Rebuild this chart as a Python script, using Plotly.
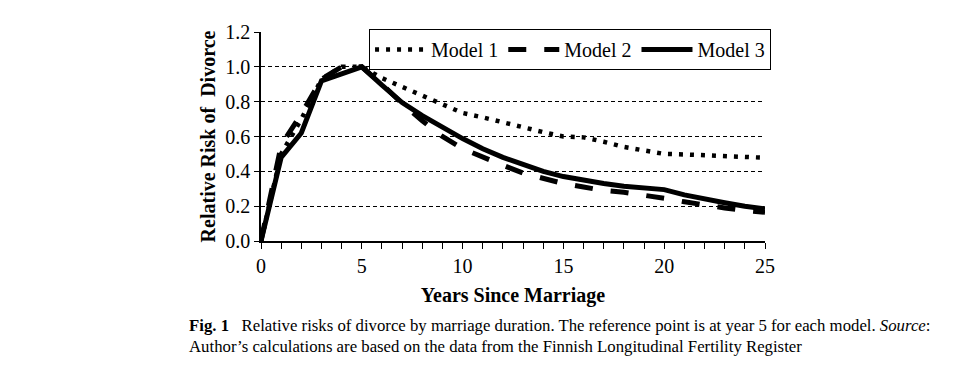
import plotly.graph_objects as go

years = list(range(0, 26))
model1 = [0.0, 0.50, 0.70, 0.93, 1.0, 1.0, 0.935, 0.885, 0.835, 0.785, 0.735,
          0.71, 0.68, 0.655, 0.625, 0.60, 0.595, 0.57, 0.54, 0.52, 0.50,
          0.497, 0.493, 0.49, 0.485, 0.478]
model2 = [0.0, 0.55, 0.73, 0.93, 1.0, 1.0, 0.90, 0.79, 0.69, 0.60, 0.53,
          0.48, 0.435, 0.39, 0.36, 0.33, 0.31, 0.29, 0.28, 0.265, 0.245,
          0.225, 0.205, 0.19, 0.175, 0.165]
model3 = [0.0, 0.48, 0.62, 0.92, 0.96, 1.0, 0.895, 0.795, 0.72, 0.65, 0.588,
          0.53, 0.48, 0.44, 0.40, 0.37, 0.348, 0.33, 0.315, 0.305, 0.295,
          0.265, 0.24, 0.22, 0.20, 0.185]
names = ["Model 1", "Model 2", "Model 3"]
x_ticks = [0, 5, 10, 15, 20, 25]
y_ticks = [0.0, 0.2, 0.4, 0.6, 0.8, 1.0, 1.2]

SERIF = "Liberation Serif, Times New Roman, serif"

fig = go.Figure()
fig.add_trace(go.Scatter(x=years, y=model1, name=names[0], mode="lines",
                         line=dict(color="black", width=4.5, dash="4px,7px")))
fig.add_trace(go.Scatter(x=years, y=model2, name=names[1], mode="lines",
                         line=dict(color="black", width=5, dash="18px,18px")))
fig.add_trace(go.Scatter(x=years, y=model3, name=names[2], mode="lines",
                         line=dict(color="black", width=5)))

fig.update_layout(
    width=960, height=376,
    margin=dict(l=253, r=203, t=24, b=143),
    paper_bgcolor="white", plot_bgcolor="white",
    font=dict(family=SERIF, size=20, color="black"),
    showlegend=True,
    legend=dict(orientation="h", x=1.012, xanchor="right", y=1.014, yanchor="top",
                bgcolor="white", bordercolor="black", borderwidth=1,
                font=dict(family=SERIF, size=20), itemwidth=51,
                tracegroupgap=0),
    xaxis=dict(range=[0, 25], tickvals=x_ticks, ticktext=[str(v) for v in x_ticks],
               showline=True, linecolor="black", linewidth=1.5,
               ticks="outside", ticklen=6, tickcolor="black",
               minor=dict(dtick=1, ticks="outside", ticklen=6, tickcolor="black"),
               showgrid=False, zeroline=False,
               tickfont=dict(family=SERIF, size=20),
               title=dict(text="<b>Years Since Marriage</b>", standoff=12,
                          font=dict(family=SERIF, size=20))),
    yaxis=dict(range=[0, 1.2], tickvals=y_ticks, ticktext=[f"{v:.1f}" for v in y_ticks],
               showline=True, linecolor="black", linewidth=1.5,
               ticks="outside", ticklen=5, tickcolor="black",
               showgrid=True, gridcolor="black", gridwidth=1, griddash="4px,3px",
               zeroline=False,
               tickfont=dict(family=SERIF, size=20),
               title=dict(text="<b>Relative Risk of\u00a0 Divorce</b>", standoff=4,
                          font=dict(family=SERIF, size=20))),
    annotations=[
        dict(text="<b>Fig. 1</b>\u00a0\u00a0 Relative risks of divorce by marriage duration. The reference point is at year 5 for each model. <i>Source</i>:",
             xref="paper", yref="paper", x=-0.1468, y=-0.402, xanchor="left", yanchor="middle",
             showarrow=False, font=dict(family=SERIF, size=16.75)),
        dict(text="Author\u2019s calculations are based on the data from the Finnish Longitudinal Fertility Register",
             xref="paper", yref="paper", x=-0.1468, y=-0.507, xanchor="left", yanchor="middle",
             showarrow=False, font=dict(family=SERIF, size=16.75)),
    ],
)

fig.write_html("out.html")
